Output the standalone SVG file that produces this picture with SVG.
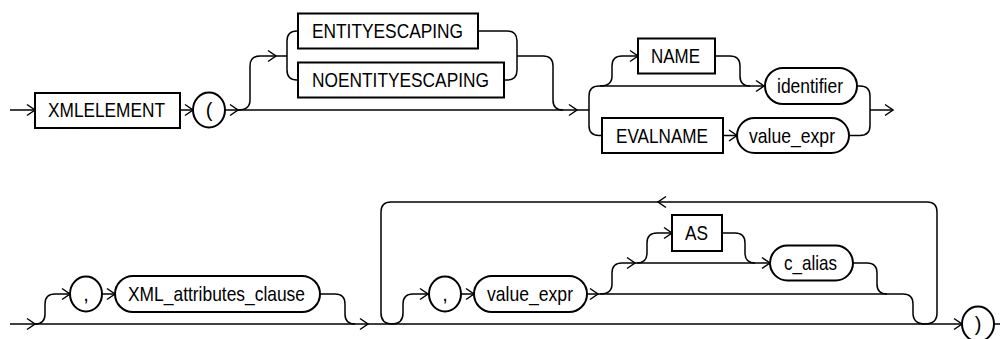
<svg xmlns="http://www.w3.org/2000/svg" width="1000" height="339" viewBox="0 0 1000 339">
<defs>
<style>
.bx{fill:#fff;stroke:#000;stroke-width:2}
.c{fill:none;stroke:#000;stroke-width:1.5}
.t{font-family:"Liberation Sans",Arial,sans-serif;font-size:21px;fill:#000}
.s{font-family:"Liberation Sans",Arial,sans-serif;font-size:20px;fill:#000;text-anchor:middle}
</style>
<marker id="a" markerUnits="userSpaceOnUse" markerWidth="10" markerHeight="12" refX="8" refY="6" orient="auto" overflow="visible">
<path d="M0,0.5 L8,6 L0,11.5" fill="none" stroke="#000" stroke-width="1.5"/>
</marker>
</defs>
<rect width="1000" height="339" fill="#fff"/>
<g id="connectors">
<path class="c" d="M10,110 H35" marker-end="url(#a)"/>
<path class="c" d="M180,110 H193" marker-end="url(#a)"/>
<path class="c" d="M225,110 H238" marker-end="url(#a)"/>
<path class="c" d="M238,110 H577" marker-end="url(#a)"/>
<path class="c" d="M238,110 Q250,110 250,100 V66 Q250,56 260,56 H276" marker-end="url(#a)"/>
<path class="c" d="M276,56 H287 M287,56 V41 Q287,31 297,31 H298 M287,56 V70 Q287,80 297,80 H298"/>
<path class="c" d="M478,31 H507 Q517,31 517,41 V70 Q517,80 507,80 H504 M517,56 H543 Q553,56 553,66 V100 Q553,110 563,110"/>
<path class="c" d="M577,110 H589 M589,110 V96 Q589,86 599,86 M589,110 V125.5 Q589,135.5 599,135.5 H602"/>
<path class="c" d="M599,86 H764" marker-end="url(#a)"/>
<path class="c" d="M600,86 Q612,86 612,76 V66 Q612,56 622,56 H638" marker-end="url(#a)"/>
<path class="c" d="M715,56 H730 Q740,56 740,66 V76 Q740,86 750,86"/>
<path class="c" d="M723,135.5 H737" marker-end="url(#a)"/>
<path class="c" d="M857,86 H860 Q870,86 870,96 V125.5 Q870,135.5 860,135.5 H849"/>
<path class="c" d="M870,110 H893" marker-end="url(#a)"/>
<path class="c" d="M10,324 H35" marker-end="url(#a)"/>
<path class="c" d="M35,324 H368" marker-end="url(#a)"/>
<path class="c" d="M35,324 Q45,324 45,314 V304 Q45,294 55,294 H70" marker-end="url(#a)"/>
<path class="c" d="M102,294 H115" marker-end="url(#a)"/>
<path class="c" d="M320,294 H335 Q345,294 345,304 V314 Q345,324 355,324"/>
<path class="c" d="M368,324 H962" marker-end="url(#a)"/>
<path class="c" d="M937,313 V212 Q937,202 927,202 H658" marker-end="url(#a)"/>
<path class="c" d="M658,202 H391 Q381,202 381,212 V313 Q381,324 392,324 Q403,324 403,313 V304 Q403,294 413,294 H428" marker-end="url(#a)"/>
<path class="c" d="M461,294 H474" marker-end="url(#a)"/>
<path class="c" d="M587,294 H598" marker-end="url(#a)"/>
<path class="c" d="M598,294 H903 Q913,294 913,304 V313 Q913,324 925,324 Q937,324 937,313"/>
<path class="c" d="M600,294 Q612,294 612,284 V273 Q612,263 622,263 H635" marker-end="url(#a)"/>
<path class="c" d="M635,263 H770" marker-end="url(#a)"/>
<path class="c" d="M637,263 Q647,263 647,253 V243 Q647,233 657,233 H672" marker-end="url(#a)"/>
<path class="c" d="M722,233 H735 Q745,233 745,243 V253 Q745,263 755,263"/>
<path class="c" d="M853,263 H867 Q877,263 877,273 V284 Q877,294 887,294"/>
<path class="c" d="M994,324 H1000"/>
</g>
<g id="n-xmlelement"><rect class="bx" x="35" y="93" width="145" height="35"/><text class="t" x="48" y="117" textLength="117" lengthAdjust="spacingAndGlyphs">XMLELEMENT</text></g>
<g id="n-lparen"><ellipse class="bx" cx="209" cy="110" rx="16" ry="17.5"/><text class="s" x="209" y="117">(</text></g>
<g id="n-entity"><rect class="bx" x="298" y="13.5" width="180" height="35"/><text class="t" x="312" y="38" textLength="151" lengthAdjust="spacingAndGlyphs">ENTITYESCAPING</text></g>
<g id="n-noentity"><rect class="bx" x="298" y="62.5" width="206" height="35"/><text class="t" x="312" y="87" textLength="177" lengthAdjust="spacingAndGlyphs">NOENTITYESCAPING</text></g>
<g id="n-name"><rect class="bx" x="638" y="38.5" width="77" height="35"/><text class="t" x="651" y="63" textLength="49" lengthAdjust="spacingAndGlyphs">NAME</text></g>
<g id="n-identifier"><rect class="bx" x="765" y="68" width="92" height="36" rx="18"/><text class="t" x="777" y="93" textLength="66" lengthAdjust="spacingAndGlyphs">identifier</text></g>
<g id="n-evalname"><rect class="bx" x="602" y="118" width="121" height="35"/><text class="t" x="616" y="142.5" textLength="92" lengthAdjust="spacingAndGlyphs">EVALNAME</text></g>
<g id="n-value-expr-1"><rect class="bx" x="737" y="118" width="112" height="35" rx="17.5"/><text class="t" x="749" y="142.5" textLength="86" lengthAdjust="spacingAndGlyphs">value_expr</text></g>
<g id="n-comma-1"><ellipse class="bx" cx="86" cy="294" rx="16" ry="17.5"/><text class="s" x="86" y="301">,</text></g>
<g id="n-xml-attributes"><rect class="bx" x="115" y="276" width="205" height="36" rx="18"/><text class="t" x="128" y="301" textLength="177" lengthAdjust="spacingAndGlyphs">XML_attributes_clause</text></g>
<g id="n-comma-2"><ellipse class="bx" cx="445" cy="294" rx="16" ry="17.5"/><text class="s" x="445" y="301">,</text></g>
<g id="n-value-expr-2"><rect class="bx" x="474" y="276" width="113" height="36" rx="18"/><text class="t" x="487" y="301" textLength="86" lengthAdjust="spacingAndGlyphs">value_expr</text></g>
<g id="n-as"><rect class="bx" x="672" y="215" width="50" height="36"/><text class="t" x="685" y="240" textLength="23" lengthAdjust="spacingAndGlyphs">AS</text></g>
<g id="n-c-alias"><rect class="bx" x="770" y="245.5" width="83" height="35" rx="17.5"/><text class="t" x="784" y="270" textLength="53" lengthAdjust="spacingAndGlyphs">c_alias</text></g>
<g id="n-rparen"><ellipse class="bx" cx="978" cy="324" rx="16" ry="17.5"/><text class="s" x="978" y="331">)</text></g>
</svg>
